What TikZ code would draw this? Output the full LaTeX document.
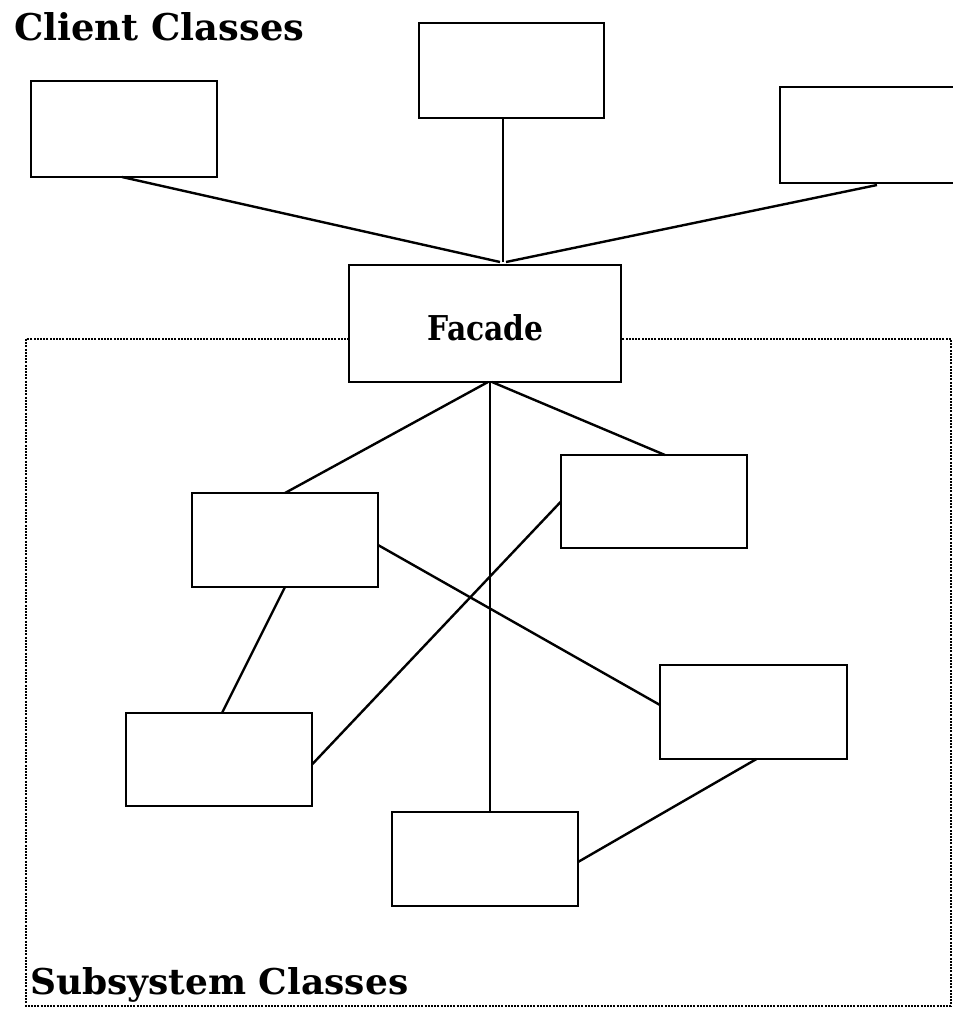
\documentclass[tikz,border=0pt]{standalone}
\usepackage{fontspec}
\setmainfont{DejaVu Serif}
\begin{document}
\begin{tikzpicture}[x=1pt,y=-1pt,
  cls/.style={draw, fill=white, line width=2.5pt, minimum width=186pt, minimum height=94pt, inner sep=0pt, outer sep=0pt},
  link/.style={line width=2.4pt},
  group/.style={line width=2pt, dash pattern=on 2pt off 1.2pt},
  title/.style={inner sep=0pt, anchor=base west}]
\useasboundingbox (0,0) rectangle (953,1010);

% subsystem boundary
\draw[group] (26,339) rectangle (951,1006);

% client classes
\node[cls, minimum height=96pt] (c1) at (124,129) {};
\node[cls, minimum width=185pt, minimum height=95pt] (c2) at (511.5,70.5) {};
\node[cls, minimum width=190pt, minimum height=96pt] (c3) at (875,135) {};

% facade
\node[cls, minimum width=272pt, minimum height=117pt] (facade) at (485,323.5) {};
\node[inner sep=0pt, anchor=base] (facadetext) at (485.5,340) {\resizebox{116pt}{26pt}{\bfseries Facade}};

% subsystem classes
\node[cls] (sa) at (285,540) {};
\node[cls, minimum height=93pt] (sb) at (654,501.5) {};
\node[cls, minimum height=93pt] (sc) at (219,759.5) {};
\node[cls, minimum width=187pt] (sd) at (753.5,712) {};
\node[cls] (se) at (485,859) {};

% titles
\node[title] (clienttitle) at (14,40) {\resizebox{290pt}{28pt}{\bfseries Client Classes}};
\node[title] (subtitle) at (30,994) {\resizebox{378pt}{27pt}{\bfseries Subsystem Classes}};

% client to facade
\coordinate (hub) at (503,262);
\draw[link] ([xshift=-2pt]c1.south) -- ([xshift=-3pt]hub);
\draw[link] (c2.south -| hub) -- (hub);
\draw[link] ([xshift=2pt,yshift=-2pt]c3.south) -- ([xshift=3pt]hub);

% facade to subsystem
\coordinate (fb) at ([xshift=5pt]facade.south);
\draw[link] ([xshift=-2pt]fb) -- (sa.north);
\draw[link] ([xshift=2pt]fb) -- ([xshift=11pt]sb.north);
\draw[link] (fb) -- (fb |- se.north);

% subsystem internal links
\draw[link] ([yshift=-5pt]sa.east) -- ([yshift=7pt]sd.west);
\draw[link] (sa.south) -- ([xshift=3pt]sc.north);
\draw[link] (sb.west) -- ([yshift=-5pt]sc.east);
\draw[link] ([xshift=3pt]sd.south) -- ([yshift=-3pt]se.east);
\end{tikzpicture}
\end{document}
